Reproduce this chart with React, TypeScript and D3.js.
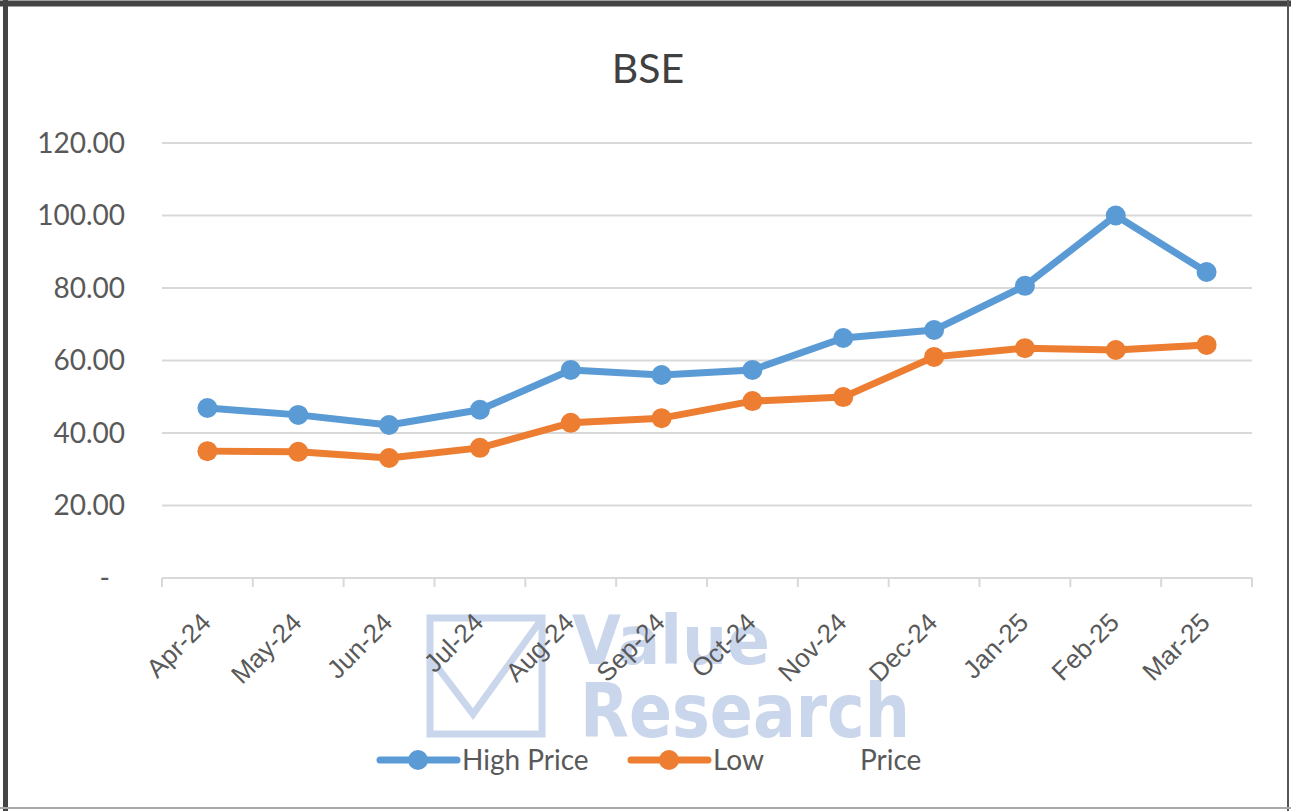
import { useEffect, useRef } from 'react';
import * as d3 from 'd3';

const months = ['Apr-24', 'May-24', 'Jun-24', 'Jul-24', 'Aug-24', 'Sep-24', 'Oct-24', 'Nov-24', 'Dec-24', 'Jan-25', 'Feb-25', 'Mar-25'];
const highPrice = [46.9, 45.0, 42.2, 46.4, 57.4, 56.0, 57.4, 66.2, 68.4, 80.6, 100.0, 84.4];
const lowPrice = [35.0, 34.8, 33.1, 35.9, 42.8, 44.1, 48.8, 49.9, 61.0, 63.4, 62.9, 64.3];
const yTicks = [0, 20, 40, 60, 80, 100, 120];
const colors = ['#5b9bd5', '#ed7d31'];

const FONT = 'Lato, "Open Sans", sans-serif';

export default function App() {
  const ref = useRef<HTMLDivElement>(null);
  useEffect(() => {
    const width = 1291;
    const height = 811;
    const marginLeft = 162;
    const marginRight = 39;
    const plotTop = 143;
    const plotBottom = 578;

    const svg = d3.create('svg')
      .attr('width', width)
      .attr('height', height)
      .attr('viewBox', [0, 0, width, height])
      .style('display', 'block')
      .style('font-family', FONT);

    svg.append('rect').attr('width', width).attr('height', height).attr('fill', '#fff');

    // frame: thick dark top/left, thin right/bottom
    svg.append('line').attr('x1', 0).attr('x2', width).attr('y1', 3.5).attr('y2', 3.5)
      .attr('stroke', '#444').attr('stroke-width', 6);
    svg.append('line').attr('x1', 5.5).attr('x2', 5.5).attr('y1', 0).attr('y2', height)
      .attr('stroke', '#444').attr('stroke-width', 5);
    svg.append('line').attr('x1', width - 3).attr('x2', width - 3).attr('y1', 0).attr('y2', height)
      .attr('stroke', '#555').attr('stroke-width', 2);
    svg.append('line').attr('x1', 0).attr('x2', width).attr('y1', height - 3).attr('y2', height - 3)
      .attr('stroke', '#aaa').attr('stroke-width', 2);

    const x = d3.scaleBand<string>()
      .domain(months)
      .range([marginLeft, width - marginRight]);

    const y = d3.scaleLinear()
      .domain([0, 120])
      .range([plotBottom, plotTop]);

    // title
    svg.append('text')
      .attr('x', 648).attr('y', 83)
      .attr('text-anchor', 'middle')
      .attr('fill', '#404040')
      .attr('font-size', 41)
      .text('BSE');

    // watermark
    const wm = svg.append('g').attr('fill', '#c9d6ec').attr('stroke', '#c9d6ec');
    wm.append('rect')
      .attr('x', 430).attr('y', 618).attr('width', 112).attr('height', 116)
      .attr('fill', 'none').attr('stroke-width', 7);
    wm.append('path')
      .attr('d', 'M432,660 L473,714 L541,620')
      .attr('fill', 'none').attr('stroke-width', 7);
    wm.append('text')
      .attr('x', 572).attr('y', 664)
      .attr('stroke', 'none')
      .attr('font-size', 68).attr('font-weight', 700)
      .attr('font-family', '"DejaVu Sans", sans-serif')
      .attr('textLength', 198)
      .attr('lengthAdjust', 'spacingAndGlyphs')
      .text('Value');
    wm.append('text')
      .attr('x', 580).attr('y', 737)
      .attr('stroke', 'none')
      .attr('font-size', 74).attr('font-weight', 700)
      .attr('font-family', '"DejaVu Sans", sans-serif')
      .attr('textLength', 330)
      .attr('lengthAdjust', 'spacingAndGlyphs')
      .text('Research');

    // gridlines
    svg.append('g')
      .selectAll('line')
      .data(yTicks.filter((d) => d > 0))
      .join('line')
      .attr('x1', marginLeft).attr('x2', width - marginRight)
      .attr('y1', (d) => y(d)).attr('y2', (d) => y(d))
      .attr('stroke', '#d9d9d9').attr('stroke-width', 2);

    // y labels
    svg.append('g')
      .selectAll('text')
      .data(yTicks)
      .join('text')
      .attr('x', (d) => (d === 0 ? 110 : 125))
      .attr('y', (d) => y(d))
      .attr('dy', '0.35em')
      .attr('text-anchor', 'end')
      .attr('fill', '#595959')
      .attr('font-size', 28)
      .text((d) => (d === 0 ? '-' : d.toFixed(2)));

    // x axis
    const xAxis = svg.append('g')
      .attr('transform', `translate(0,${plotBottom})`)
      .call(d3.axisBottom(x).tickSize(0).tickFormat(() => ''));
    xAxis.select('.domain').attr('stroke', '#d9d9d9').attr('stroke-width', 2)
      .attr('d', `M${marginLeft},0H${width - marginRight}`);
    xAxis.selectAll('.tick').remove();
    const bounds = [...months.map((m) => x(m)!), width - marginRight];
    xAxis.append('g')
      .selectAll('line')
      .data(bounds)
      .join('line')
      .attr('x1', (d) => d).attr('x2', (d) => d)
      .attr('y1', 0).attr('y2', 9)
      .attr('stroke', '#d9d9d9').attr('stroke-width', 2);
    xAxis.append('g')
      .selectAll('text')
      .data(months)
      .join('text')
      .attr('transform', (d) => `translate(${x(d)! + x.bandwidth() / 2 + 5},${46}) rotate(-45)`)
      .attr('text-anchor', 'end')
      .attr('fill', '#595959')
      .attr('font-size', 26)
      .text((d) => d);

    // lines
    const cx = (i: number) => x(months[i])! + x.bandwidth() / 2;
    [highPrice, lowPrice].forEach((values, s) => {
      const line = d3.line<number>()
        .x((_, i) => cx(i))
        .y((d) => y(d));
      svg.append('path')
        .datum(values)
        .attr('d', line)
        .attr('fill', 'none')
        .attr('stroke', colors[s])
        .attr('stroke-width', 7)
        .attr('stroke-linejoin', 'round');
      svg.append('g')
        .selectAll('circle')
        .data(values)
        .join('circle')
        .attr('cx', (_, i) => cx(i))
        .attr('cy', (d) => y(d))
        .attr('r', 10)
        .attr('fill', colors[s]);
    });

    // legend
    const legend = [
      { x: 380, parts: [{ dx: 82, t: 'High Price' }] },
      { x: 631, parts: [{ dx: 82, t: 'Low' }, { dx: 229, t: 'Price' }] },
    ];
    legend.forEach((item, s) => {
      const g = svg.append('g').attr('transform', `translate(${item.x},760)`);
      g.append('line')
        .attr('x1', 0).attr('x2', 77)
        .attr('stroke', colors[s]).attr('stroke-width', 7)
        .attr('stroke-linecap', 'round');
      g.append('circle').attr('cx', 38).attr('r', 10).attr('fill', colors[s]);
      item.parts.forEach((p) => {
        g.append('text')
          .attr('x', p.dx).attr('dy', '0.35em')
          .attr('fill', '#595959')
          .attr('font-size', 28)
          .text(p.t);
      });
    });

    const node = svg.node()!;
    ref.current?.append(node);
    return () => {
      node.remove();
    };
  }, []);
  return <div ref={ref} style={{ position: 'absolute', left: 0, top: 0 }} />;
}
